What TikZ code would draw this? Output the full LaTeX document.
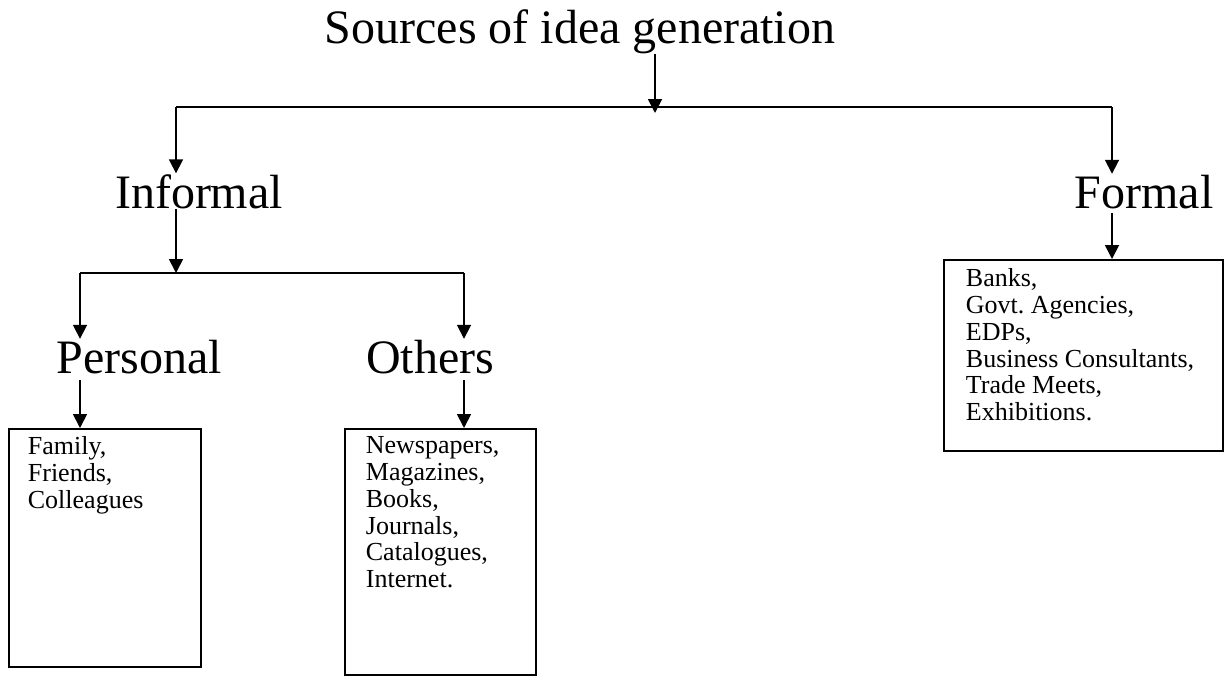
\documentclass[tikz,border=0pt]{standalone}
\usepackage{fontspec}
\setmainfont{Liberation Serif}
\usetikzlibrary{arrows.meta}
\tikzset{hd/.style = {inner sep=0pt, font=\fontsize{24}{28}\selectfont},
           bx/.style = {draw, line width=0.9pt, inner sep=0pt, anchor=north west},
           li/.style = {inner sep=0pt, anchor=north west, align=left, font=\fontsize{13}{13.35}\selectfont}}

\begin{document}
\begin{tikzpicture}[x=0.5pt, y=-0.5pt, >={Triangle[width=7pt, length=7pt]}, line width=0.9pt]
    \useasboundingbox (0,0) rectangle (1226,675);
    \node[hd, anchor=base] (src) at (580,43) {Sources of idea generation};
    \node[hd, anchor=base] (inf) at (199,208) {Informal};
    \node[hd, anchor=base] (frm) at (1144,208) {Formal};
    \node[hd, anchor=base] (per) at (139,373) {Personal};
    \node[hd, anchor=base] (oth) at (430,373) {Others};
    \node[bx, minimum width=96pt, minimum height=119pt] (perbox) at (8,428) {};
    \node[bx, minimum width=95.5pt, minimum height=123pt] (othbox) at (344,428) {};
    \node[bx, minimum width=139.5pt, minimum height=95.5pt] (frmbox) at (943,259) {};
    \node[li] (perli) at (27,436) {Family,\\Friends,\\Colleagues};
    \node[li] (othli) at (365,436) {Newspapers,\\Magazines,\\Books,\\Journals,\\Catalogues,\\Internet.};
    \node[li] (frmli) at (965,268) {Banks,\\Govt.\ Agencies,\\EDPs,\\Business Consultants,\\Trade Meets,\\Exhibitions.};
    \coordinate (b1m) at (655,107); \coordinate (b1l) at (176,107); \coordinate (b1r) at (1112,107);
    \coordinate (b2m) at (176,273); \coordinate (b2l) at (80,273);  \coordinate (b2r) at (464,273);
    \draw (b1l) -- (b1r);
    \draw (b2l) -- (b2r);
    \draw[->, shorten >=-3pt] (src.south -| b1m) -- (b1m);
    \draw[->] (b1l) -- (b1l |- inf.north);
    \draw[->] (b1r) -- (b1r |- frm.north);
    \draw[->] (inf.south -| b2m) -- (b2m);
    \draw[->] (b2l) -- (b2l |- per.north);
    \draw[->] (b2r) -- (b2r |- oth.north);
    \draw[->, shorten <=3pt] (per.south -| b2l) -- (b2l |- perbox.north);
    \draw[->, shorten <=3pt] (oth.south -| b2r) -- (b2r |- othbox.north);
    \draw[->, shorten <=2pt] (frm.south -| b1r) -- (b1r |- frmbox.north);
\end{tikzpicture}
\end{document}
